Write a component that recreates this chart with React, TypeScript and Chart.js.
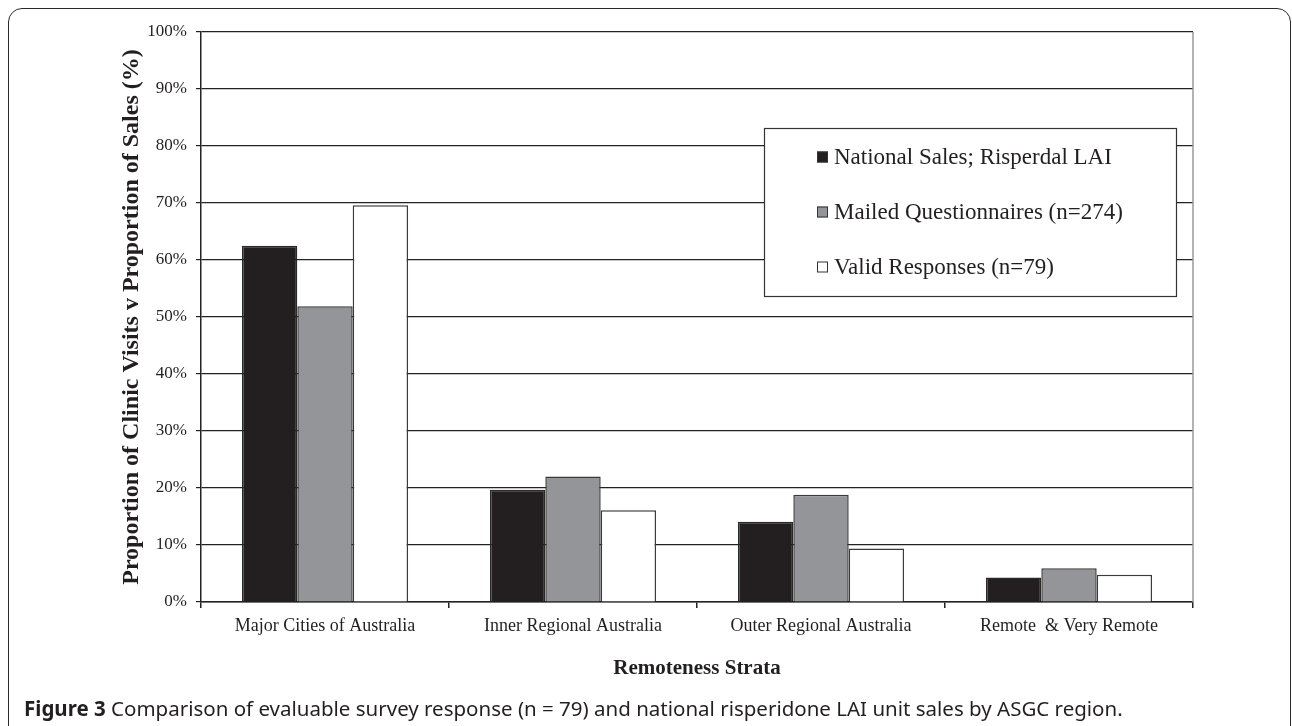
import React, { useEffect, useRef } from "react";
import { Chart, registerables } from "chart.js";

Chart.register(...registerables);

const categories = [
  "Major Cities of Australia",
  "Inner Regional Australia",
  "Outer Regional Australia",
  "Remote  & Very Remote",
];
const nationalSales = [62.5, 19.7, 14.1, 4.3];
const mailedQuestionnaires = [51.9, 22.0, 18.8, 5.9];
const validResponses = [69.6, 16.1, 9.4, 4.8];
const seriesLabels = [
  "National Sales; Risperdal LAI",
  "Mailed Questionnaires (n=274)",
  "Valid Responses (n=79)",
];
const yTicks = [0, 10, 20, 30, 40, 50, 60, 70, 80, 90, 100];

const SERIF = "'Liberation Serif', 'Times New Roman', serif";

const legendBoxPlugin = {
  id: "legendBox",
  afterDatasetsDraw(chart: any) {
    const ctx = chart.ctx;
    const x0 = 764, y0 = 128, x1 = 1176, y1 = 296;
    ctx.save();
    ctx.fillStyle = "#ffffff";
    ctx.fillRect(x0, y0, x1 - x0, y1 - y0);
    ctx.strokeStyle = "#333333";
    ctx.lineWidth = 1.2;
    ctx.strokeRect(x0 + 0.5, y0 + 0.5, x1 - x0, y1 - y0);
    const rowY = [157, 212, 267];
    chart.data.datasets.forEach((ds: any, i: number) => {
      const cy = rowY[i];
      ctx.fillStyle = ds.backgroundColor;
      ctx.fillRect(817, cy - 5.5, 11, 11);
      ctx.strokeStyle = "#333333";
      ctx.lineWidth = 1;
      ctx.strokeRect(817.5, cy - 5, 10, 10);
      ctx.fillStyle = "#231f20";
      ctx.font = "23px " + SERIF;
      ctx.textBaseline = "middle";
      ctx.textAlign = "left";
      ctx.fillText(ds.label, 834, cy + 1);
    });
    ctx.restore();
  },
};

const rightEdgePlugin = {
  id: "rightEdge",
  beforeDatasetsDraw(chart: any) {
    const { ctx, chartArea } = chart;
    ctx.save();
    ctx.strokeStyle = "#9a9a9a";
    ctx.lineWidth = 1.5;
    ctx.beginPath();
    ctx.moveTo(chartArea.right, chartArea.top);
    ctx.lineTo(chartArea.right, chartArea.bottom);
    ctx.stroke();
    ctx.restore();
  },
};

export default function App() {
  const canvasRef = useRef<HTMLCanvasElement | null>(null);

  useEffect(() => {
    if (!canvasRef.current) return;
    const chart = new Chart(canvasRef.current, {
      type: "bar",
      data: {
        labels: categories,
        datasets: [
          {
            label: seriesLabels[0],
            data: nationalSales,
            backgroundColor: "#231f20",
            borderColor: "#2a2a2a",
            borderWidth: 1.5,
          },
          {
            label: seriesLabels[1],
            data: mailedQuestionnaires,
            backgroundColor: "#939598",
            borderColor: "#3a3a3a",
            borderWidth: 1.5,
          },
          {
            label: seriesLabels[2],
            data: validResponses,
            backgroundColor: "#ffffff",
            borderColor: "#3a3a3a",
            borderWidth: 1.5,
          },
        ],
      },
      options: {
        responsive: false,
        animation: false,
        layout: { padding: { left: 0, top: 32, right: 99, bottom: 0 } },
        plugins: {
          legend: { display: false },
          tooltip: { enabled: false },
        },
        datasets: {
          bar: { categoryPercentage: 0.67, barPercentage: 1.0 },
        },
        scales: {
          x: {
            offset: true,
            grid: {
              offset: true,
              drawOnChartArea: false,
              drawTicks: true,
              tickLength: 6,
              color: "#222222",
              lineWidth: 1.5,
            },
            border: { color: "#222222", width: 1.5 },
            ticks: {
              color: "#231f20",
              font: { family: SERIF, size: 18 },
              padding: 7,
              maxRotation: 0,
              autoSkip: false,
            },
            title: {
              display: true,
              text: "Remoteness Strata",
              color: "#231f20",
              font: { family: SERIF, size: 21, weight: "bold" },
              padding: { top: 0, bottom: 45 },
            },
            afterFit(scale: any) {
              scale.height = 124;
            },
          },
          y: {
            min: 0,
            max: 100,
            afterBuildTicks(scale: any) {
              scale.ticks = yTicks.map((v) => ({ value: v }));
            },
            grid: {
              color: "#222222",
              lineWidth: 1.2,
              drawTicks: true,
              tickLength: 5,
            },
            border: { color: "#222222", width: 1.5 },
            ticks: {
              color: "#231f20",
              font: { family: SERIF, size: 17 },
              padding: 9,
              callback: (v: any) => v + "%",
            },
            title: {
              display: true,
              text: "Proportion of Clinic Visits v Proportion of Sales (%)",
              color: "#231f20",
              font: { family: SERIF, size: 24, weight: "bold" },
              padding: { top: 117, bottom: 0 },
            },
            afterFit(scale: any) {
              scale.width = 201;
            },
          },
        },
      },
      plugins: [rightEdgePlugin, legendBoxPlugin],
    });
    return () => chart.destroy();
  }, []);

  return (
    <div
      style={{
        position: "fixed",
        left: 0,
        top: 0,
        width: 1292,
        height: 726,
        background: "#ffffff",
        overflow: "hidden",
      }}
    >
      <div
        style={{
          position: "absolute",
          left: 8,
          top: 8,
          width: 1283,
          height: 800,
          border: "1.5px solid #2a2a2a",
          borderRadius: 14,
          boxSizing: "border-box",
        }}
      />
      <canvas
        ref={canvasRef}
        width={1292}
        height={726}
        style={{ position: "absolute", left: 0, top: 0, width: 1292, height: 726 }}
      />
      <div
        style={{
          position: "absolute",
          left: 24,
          top: 695,
          fontFamily: "'Noto Sans', sans-serif",
          fontSize: 20.5,
          lineHeight: "26px",
          color: "#231f20",
          whiteSpace: "nowrap",
        }}
      >
        <b>Figure 3</b> Comparison of evaluable survey response (n = 79) and national risperidone LAI unit sales by ASGC region.
      </div>
    </div>
  );
}
